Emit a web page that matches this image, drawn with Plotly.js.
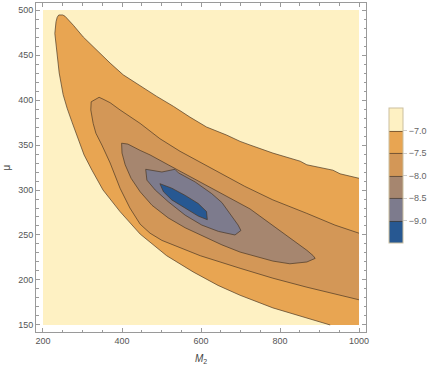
<!DOCTYPE html>
<html>
<head>
<meta charset="utf-8">
<script src="https://cdn.plot.ly/plotly-3.0.1.min.js"></script>
<style>
  html, body { margin: 0; padding: 0; background: #fff; }
  #chart { width: 436px; height: 365px; }
</style>
</head>
<body>
<div id="chart"></div>
<script>
// Plot domain
const m2Domain = [200, 1000];
const muDomain = [150, 500];

// Contour levels and band colours (from above -7.0 down to below -9.0)
const levels = [-7.0, -7.5, -8.0, -8.5, -9.0];
const zRange = [-9.5, -6.5];
const bandColors = ['#FEF1C3', '#E8A552', '#D39757', '#A6866F', '#7D7B8D', '#275892'];

// Contour -7.0 (open: enters on the right edge, leaves on the bottom edge)
const m2Level70 = [1000, 952, 934, 868, 851, 782, 724, 699, 665, 614, 572, 530, 488, 446, 403, 370, 336, 302, 277, 256, 250, 240, 236, 233, 230, 235, 241, 251, 261, 273, 289, 304, 324, 352, 395, 446, 513, 580, 643, 699, 782, 868, 927];
const muLevel70 = [313, 318, 322, 328, 332, 341, 350, 354, 361, 370, 381, 393, 404, 416, 428, 441, 456, 470, 483, 493, 494.5, 494.5, 492, 487, 474, 452, 430, 406, 391, 376, 356, 339, 322, 300, 276, 251, 227, 209, 194, 183, 169, 158, 150];

// Contour -7.5 (open: both ends on the right edge)
const m2Level75 = [1000, 939, 868, 782, 711, 656, 598, 547, 496, 446, 395, 370, 352, 342, 322, 321, 327, 334, 349, 370, 395, 420, 446, 471, 501, 598, 699, 782, 868, 952, 1000];
const muLevel75 = [252, 261, 274, 289, 304, 317, 330, 343, 357, 374, 389, 397, 401, 403, 398, 389, 374, 363, 350, 330, 302, 280, 262, 252, 244, 227, 213, 202, 192, 183, 178];

// Contour -8.0 (closed)
const m2Level80 = [399, 415, 446, 471, 517, 603, 686, 724, 749, 787, 825, 868, 884, 889, 868, 825, 782, 742, 699, 653, 603, 560, 517, 476, 446, 423, 408, 400];
const muLevel80 = [352, 351, 344, 339, 328, 308, 288, 279, 271, 259, 247, 233, 227, 224, 220, 218, 221, 226, 231, 239, 249, 258, 269, 283, 298, 313, 328, 341];

// Contour -8.5 (closed)
const m2Level85 = [460, 501, 534, 543, 585, 627, 653, 679, 694, 701, 686, 644, 602, 560, 517, 484, 463];
const muLevel85 = [323, 320, 323, 319, 309, 296, 286, 271, 261, 255, 250, 254, 261, 272, 287, 300, 311];

// Contour -9.0 (closed)
const m2Level90 = [496, 526, 560, 593, 614, 616, 593, 560, 526, 505];
const muLevel90 = [307, 302, 294, 285, 276, 267, 271, 280, 289, 298];

const lineStyle = { color: 'rgba(70, 52, 35, 0.75)', width: 0.9 };
const fontFamily = 'Liberation Sans, Arial, sans-serif';
const tickFont = { family: fontFamily, size: 9, color: '#555' };

const traces = [];

// Add filled band plus its contour line
function addLevel(xs, ys, color, closed, fillX, fillY) {
    traces.push({
        type: 'scatter', mode: 'lines',
        x: fillX || xs, y: fillY || ys,
        fill: 'toself', fillcolor: color,
        line: { width: 0 }, hoverinfo: 'skip'
    });
    traces.push({
        type: 'scatter', mode: 'lines',
        x: closed ? xs.concat([xs[0]]) : xs,
        y: closed ? ys.concat([ys[0]]) : ys,
        line: lineStyle, hoverinfo: 'skip'
    });
}

addLevel(m2Level70, muLevel70, bandColors[1], false,
    m2Level70.concat([m2Domain[1]]), muLevel70.concat([muDomain[0]]));
addLevel(m2Level75, muLevel75, bandColors[2], false);
addLevel(m2Level80, muLevel80, bandColors[3], true);
addLevel(m2Level85, muLevel85, bandColors[4], true);
addLevel(m2Level90, muLevel90, bandColors[5], true);

// Colour legend: a contour trace kept outside the axis ranges, used only for its colorbar
const colorscale = bandColors.slice().reverse().map((c, i) => [i / (bandColors.length - 1), c]);
traces.push({
    type: 'contour',
    x: [0, 50], y: [0, 50],
    z: [[zRange[0], zRange[1]], [zRange[0], zRange[1]]],
    zmin: zRange[0], zmax: zRange[1], zauto: false,
    autocontour: false,
    contours: { start: levels[4], end: levels[0], size: 0.5, coloring: 'fill' },
    colorscale: colorscale,
    line: { color: 'rgba(70, 52, 35, 0.75)', width: 0.9 },
    hoverinfo: 'skip',
    colorbar: {
        x: (389 - 36) / 330, xanchor: 'left', xpad: 0,
        y: (332 - 175.5) / 329, yanchor: 'middle', ypad: 0,
        len: 135, lenmode: 'pixels',
        thickness: 13.5, thicknessmode: 'pixels',
        outlinewidth: 1, outlinecolor: '#cbbf9f',
        tickvals: levels, tickformat: '.1f',
        ticks: 'outside', ticklen: 4, tickcolor: '#ccc',
        tickfont: { family: fontFamily, size: 9, color: '#666' }
    }
});

const axisCommon = {
    showgrid: false, zeroline: false,
    showline: true, linecolor: '#9a9a9a', linewidth: 1, mirror: 'ticks',
    ticks: 'inside', ticklen: 4, tickcolor: '#9a9a9a', tickwidth: 1,
    tickfont: tickFont
};

const layout = {
    width: 436, height: 365,
    margin: { l: 36, r: 70, t: 3, b: 33 },
    paper_bgcolor: '#fff', plot_bgcolor: '#fff',
    showlegend: false,
    xaxis: Object.assign({}, axisCommon, {
        range: [182.3, 1017.7],
        tick0: 0, dtick: 200,
        minor: { dtick: 50, ticks: 'inside', ticklen: 2.5, tickcolor: '#9a9a9a', showgrid: false },
        title: { text: '<i>M</i><sub>2</sub>', font: { family: fontFamily, size: 10, color: '#444' }, standoff: 10 }
    }),
    yaxis: Object.assign({}, axisCommon, {
        range: [142.2, 507.8],
        tick0: 0, dtick: 50,
        minor: { dtick: 10, ticks: 'inside', ticklen: 2.5, tickcolor: '#9a9a9a', showgrid: false },
        title: { text: 'μ', font: { family: fontFamily, size: 10, color: '#444' }, standoff: 5 }
    }),
    shapes: [{
        type: 'rect', xref: 'x', yref: 'y', layer: 'below',
        x0: m2Domain[0], x1: m2Domain[1], y0: muDomain[0], y1: muDomain[1],
        fillcolor: bandColors[0], line: { width: 0 }
    }]
};

Plotly.newPlot('chart', traces, layout, { displayModeBar: false, staticPlot: true });
</script>
</body>
</html>
